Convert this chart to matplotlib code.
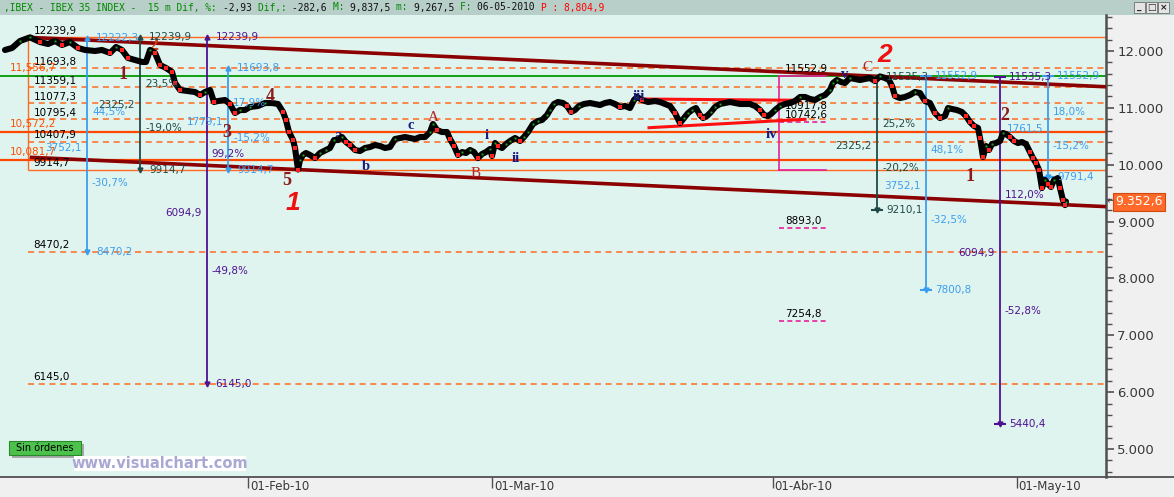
import matplotlib
matplotlib.use("Agg")
import matplotlib.pyplot as plt
import matplotlib.transforms as mtransforms
from matplotlib import font_manager
from matplotlib.font_manager import FontProperties
from matplotlib.patches import Rectangle
from matplotlib.lines import Line2D
from matplotlib.ticker import MultipleLocator
import numpy as np


def has_font(name):
    try:
        font_manager.findfont(FontProperties(family=name), fallback_to_default=False)
        return True
    except Exception:
        return False


NARROW = 'Liberation Sans Narrow' if has_font('Liberation Sans Narrow') else 'DejaVu Sans'
SERIF = 'Liberation Serif' if has_font('Liberation Serif') else 'DejaVu Serif'
SANS = 'Liberation Sans' if has_font('Liberation Sans') else 'DejaVu Sans'
MONO = 'DejaVu Sans Mono'

# ---------------- data (x = trading days from 01-Feb-10) ----------------
price_day = [-19.92, -19.34, -18.69, -17.87, -17.05, -16.39, -15.82, -15.25, -14.59, -13.93,
             -13.36, -12.54, -11.97, -11.31, -10.82, -10.33, -9.84, -9.26, -8.69, -8.36,
             -8.03, -7.62, -7.21, -6.72, -6.23, -5.98, -5.57, -4.92, -4.34, -3.93,
             -3.52, -3.11, -2.79, -2.46, -1.89, -1.48, -1.07, -0.66, -0.25, 0.16,
             0.82, 1.39, 1.97, 2.46, 2.87, 3.11, 3.36, 3.69, 3.85, 4.10,
             4.26, 4.51, 4.75, 5.08, 5.49, 5.90, 6.39, 6.72, 7.05, 7.38,
             7.70, 8.03, 8.36, 8.77, 9.18, 9.59, 10.00, 10.41, 10.82, 11.23,
             11.64, 12.05, 12.46, 12.87, 13.28, 13.69, 14.10, 14.51, 14.92, 15.16,
             15.49, 15.90, 16.31, 16.56, 16.89, 17.21, 17.54, 17.87, 18.20, 18.52,
             18.85, 19.18, 19.51, 19.84, 20.00, 20.25, 20.49, 20.82, 21.15, 21.48,
             21.89, 22.30, 22.62, 22.95, 23.36, 23.77, 24.10, 24.51, 24.75, 25.08,
             25.41, 25.82, 26.15, 26.48, 26.80, 27.13, 27.54, 28.03, 28.44, 28.85,
             29.26, 29.67, 30.08, 30.49, 30.90, 31.31, 31.64, 31.89, 32.30, 32.79,
             33.36, 33.77, 34.18, 34.59, 35.00, 35.41, 35.74, 36.07, 36.39, 36.72,
             37.05, 37.30, 37.62, 37.95, 38.28, 38.69, 39.10, 39.51, 39.92, 40.33,
             40.74, 41.15, 41.56, 41.97, 42.30, 42.62, 42.87, 43.20, 43.61, 44.02,
             44.43, 44.84, 45.25, 45.66, 46.07, 46.48, 46.89, 47.30, 47.70, 47.95,
             48.28, 48.61, 48.93, 49.34, 49.75, 50.16, 50.57, 50.98, 51.39, 51.80,
             52.21, 52.54, 52.79, 53.03, 53.44, 53.85, 54.26, 54.67, 55.08, 55.49,
             55.90, 56.31, 56.72, 57.13, 57.38, 57.70, 58.11, 58.52, 58.85, 59.18,
             59.51, 59.84, 60.00, 60.25, 60.49, 60.74, 60.98, 61.31, 61.64, 61.89,
             62.13, 62.46, 62.79, 63.11, 63.44, 63.77, 64.10, 64.34, 64.59, 64.84,
             65.08, 65.33, 65.57, 65.82, 66.07, 66.39, 66.56, 66.80, 66.97, 67.05]
price_val = [12018, 12053, 12176, 12240, 12158, 12123, 12176, 12106, 12158, 12053,
             12018, 12000, 12018, 11965, 12070, 12018, 11877, 11842, 11807, 11807,
             12018, 11965, 11754, 11701, 11631, 11437, 11314, 11296, 11279, 11226,
             11279, 11314, 11103, 11120, 11138, 11068, 10909, 10962, 10962, 11015,
             11033, 11085, 11085, 11068, 10927, 10786, 10575, 10434, 10294, 9915,
             10083, 10171, 10206, 10171, 10118, 10206, 10259, 10294, 10434, 10434,
             10487, 10399, 10347, 10259, 10241, 10294, 10311, 10347, 10329, 10294,
             10311, 10452, 10470, 10487, 10470, 10452, 10487, 10487, 10575, 10716,
             10610, 10575, 10575, 10452, 10329, 10171, 10223, 10206, 10259, 10223,
             10118, 10188, 10223, 10276, 10153, 10382, 10329, 10294, 10364, 10417,
             10470, 10417, 10487, 10575, 10716, 10769, 10786, 10874, 10962, 11068,
             11103, 11085, 11033, 10927, 10962, 11033, 11068, 11085, 11068, 11050,
             11085, 11103, 11068, 11015, 11033, 10997, 11138, 11191, 11138, 11103,
             11120, 11103, 11068, 11033, 10909, 10733, 10821, 10909, 10962, 10997,
             10874, 10821, 10857, 10927, 11015, 11068, 11085, 11103, 11085, 11068,
             11068, 11068, 11033, 10962, 10874, 10857, 10892, 10962, 11033, 11068,
             11085, 11120, 11191, 11191, 11156, 11138, 11191, 11226, 11314, 11437,
             11490, 11455, 11437, 11525, 11507, 11490, 11507, 11525, 11472, 11553,
             11525, 11490, 11384, 11208, 11173, 11191, 11226, 11279, 11261, 11120,
             11085, 10909, 10821, 10857, 10997, 10980, 10962, 10927, 10857, 10751,
             10681, 10646, 10470, 10136, 10329, 10259, 10364, 10382, 10417, 10558,
             10540, 10487, 10417, 10382, 10399, 10364, 10223, 10118, 10030, 9907,
             9590, 9731, 9661, 9608, 9731, 9766, 9590, 9379, 9290, 9352.6]
last_price = 9352.6
last_price_label = '9.352,6'

tick_days = [0, 20, 43, 63]
tick_labels = ['01-Feb-10', '01-Mar-10', '01-Abr-10', '01-May-10']
ytick_vals = [5000, 6000, 7000, 8000, 9000, 10000, 11000, 12000]
ytick_labels = ['5.000', '6.000', '7.000', '8.000', '9.000', '10.000', '11.000', '12.000']

fib_start = -18.0
fib_levels = [12239.9, 11693.8, 11359.1, 11077.3, 10795.4, 10407.9, 9914.7, 8470.2, 6145.0]
fib_labels = ['12239,9', '11693,8', '11359,1', '11077,3', '10795,4', '10407,9', '9914,7', '8470,2', '6145,0']
fib_solid = [True, False, False, False, False, False, True, False, False]

green_level = 11556.7
key_levels = [11556.7, 10572.2, 10081.7]
key_labels = ['11,556,7', '10,572,2', '10,081,7']

chan_p1 = (-18.0, 12239.9)
chan_p2 = (51.8, 11552.9)
chan_low = (4.1, 9914.7)

meas_day = [-13.2, -8.85, -3.4, -1.64, 51.56, 55.57, 61.64, 65.57]
meas_top = [12222.3, 12239.9, 12239.9, 11693.8, 11535.3, 11552.9, 11535.3, 11552.9]
meas_bot = [8470.2, 9914.7, 6145.0, 9914.7, 9210.1, 7800.8, 5440.4, 9791.4]
meas_top_lbl = ['12222,3', '12239,9', '12239,9', '11693,8', '11535,3', '11552,9', '11535,3', '11552,9']
meas_bot_lbl = ['8470,2', '9914,7', '6145,0', '9914,7', '9210,1', '7800,8', '5440,4', '9791,4']
meas_amount = ['3752,1', '2325,2', '6094,9', '1779,1', '2325,2', '3752,1', '6094,9', '1761,5']
meas_up = ['44,5%', '23,5%', '99,2%', '17,9%', '25,2%', '48,1%', '112,0%', '18,0%']
meas_dn = ['-30,7%', '-19,0%', '-49,8%', '-15,2%', '-20,2%', '-32,5%', '-52,8%', '-15,2%']
meas_kind = ['blue', 'slate', 'purple', 'blue', 'slate', 'blue', 'purple', 'blue']
# label anchor heights (layout)
meas_amount_at = [10294, 11050, 9150, 10751, 10329, 9625, 8447, 10628]
meas_up_at = [10927, 11420, 10188, 11085, 10716, 10259, 9467, 10927]
meas_dn_at = [9678, 10646, 8130, 10470, 9942, 9027, 7427, 10329]

box_left, box_right = 43.52, 47.38
box_top, box_bottom = 11552.9, 9914.7
box_mid = 10742.6
box_targets = [8893.0, 7254.8]
box_labels = ['11552,9', '10917,8', '10742,6', '8893,0', '7254,8']
box_label_vals = [11552.9, 10917.8, 10742.6, 8893.0, 7254.8]

tri_upper_day = [32.13, 45.25]
tri_upper_val = [11156, 11133]
tri_lower_day = [32.87, 45.66]
tri_lower_val = [10651, 10799]

wave_text = ['1', '2', '3', '4', '5', '1', '2']
wave_day = [-10.25, -7.7, -1.72, 1.8, 3.2, 59.18, 62.05]
wave_val = [11578, 12088, 10575, 11191, 9731, 9784, 10874]
abc_text = ['A', 'B', 'C']
abc_day = [15.16, 18.69, 50.74]
abc_val = [10839, 9854, 11701]
sub_text = ['a', 'b', 'c', 'i', 'ii', 'iii', 'iv', 'v']
sub_day = [7.4, 9.67, 13.36, 19.6, 21.97, 32.05, 42.95, 48.93]
sub_val = [10522, 9960, 10698, 10522, 10118, 11191, 10540, 11578]
big_text = ['1', '2']
big_day = [3.69, 52.2]
big_val = [9326, 11930]

title_parts = [(",IBEX - IBEX 35 INDEX -  15 m Dif, %: ", 'g'), ("-2,93 ", 'k'), ("Dif,: ", 'g'),
               ("-282,6 ", 'k'), ("M: ", 'g'), ("9,837,5 ", 'k'), ("m: ", 'g'), ("9,267,5 ", 'k'),
               ("F: ", 'g'), ("06-05-2010 ", 'k'), ("P : 8,804,9", 'r')]

# ---------------- figure ----------------
W, H, DPI = 1174, 497, 100
fig = plt.figure(figsize=(W / DPI, H / DPI), dpi=DPI, facecolor='#f0f0f0')
PLOT_R = 1106
PLOT_T = 15
PLOT_B = 477
ax = fig.add_axes([0, (H - PLOT_B) / H, PLOT_R / W, (PLOT_B - PLOT_T) / H])
ax.set_facecolor('#e0f4ef')
X_LEFT, X_RIGHT = -20.33, 70.33
ax.set_xlim(X_LEFT, X_RIGHT)
ax.set_ylim(4508, 12633)

C_ORANGE = '#ff6a20'
C_ORANGE2 = '#ff4800'
C_GREEN = '#009a00'
C_DKRED = '#8b0000'
C_PINK = '#e8209a'
COLORS = {'blue': '#3a9ef0', 'slate': '#1f4a4a', 'purple': '#4d1191'}
PX = 0.72  # points per pixel at 100 dpi


def lab(text, x, y, color, ha='left', dx=0, dy=0, va='center', size=7.5, z=6, **kw):
    ax.annotate(text, (x, y), xytext=(dx * PX, dy * PX), textcoords='offset points',
                ha=ha, va=va, color=color, fontsize=size, zorder=z,
                annotation_clip=False, **kw)


# fib rectangle + levels
for lv, lb, solid in zip(fib_levels, fib_labels, fib_solid):
    if solid:
        ax.hlines(lv, fib_start, X_RIGHT, color=C_ORANGE, lw=1.0, zorder=2)
    else:
        ax.hlines(lv, fib_start, X_RIGHT, color=C_ORANGE, lw=1.1, linestyles=(0, (4, 3)), zorder=2)
    lab(lb, fib_start, lv, 'black', dx=5, dy=1.5, va='bottom')
ax.vlines(fib_start, fib_levels[6], fib_levels[0], color=C_ORANGE, lw=1.0, zorder=2)

# key solid levels
for lv, lb in zip(key_levels, key_labels):
    if lv == green_level:
        ax.axhline(lv, color=C_GREEN, lw=1.3, zorder=2)
    else:
        ax.axhline(lv, color=C_ORANGE2, lw=1.6, zorder=2)
    ax.annotate(lb, (0, lv), xycoords=mtransforms.blended_transform_factory(ax.transAxes, ax.transData),
                xytext=(10 * PX, 3 * PX), textcoords='offset points', ha='left', va='bottom',
                color='#ff5000', fontsize=7.5, zorder=6)

# channel
slope = (chan_p2[1] - chan_p1[1]) / (chan_p2[0] - chan_p1[0])
xs = np.array([chan_p1[0], X_RIGHT])
ax.plot(xs, chan_p1[1] + slope * (xs - chan_p1[0]), color=C_DKRED, lw=2.6, zorder=3, solid_capstyle='butt')
xs2 = np.array([-17.9, X_RIGHT])
ax.plot(xs2, chan_low[1] + slope * (xs2 - chan_low[0]), color=C_DKRED, lw=2.6, zorder=3, solid_capstyle='butt')

# pink box
ax.plot([box_left, box_left], [box_bottom, box_top], color=C_PINK, lw=1.2, zorder=3)
ax.plot([box_left, box_right], [box_top, box_top], color=C_PINK, lw=1.2, zorder=3)
ax.plot([box_left, box_right], [box_bottom, box_bottom], color=C_PINK, lw=1.2, zorder=3)
for lv in [box_mid] + box_targets:
    ax.plot([box_left, box_right], [lv, lv], color=C_PINK, lw=1.2, ls=(0, (3, 2)), zorder=3)
for lb, lv in zip(box_labels, box_label_vals):
    lab(lb, box_left + 0.5, lv, 'black', dx=0, dy=2, va='bottom')

# red triangle
ax.plot(tri_upper_day, tri_upper_val, color='#ff1010', lw=2.2, zorder=4)
ax.plot(tri_lower_day, tri_lower_val, color='#ff1010', lw=2.2, zorder=4)

# measurement lines
for i in range(len(meas_day)):
    c = COLORS[meas_kind[i]]
    d = meas_day[i]
    ax.plot([d, d], [meas_bot[i], meas_top[i]], color=c, lw=1.3, zorder=4)
    right_side = d > 40
    if right_side:
        ax.plot([d], [meas_top[i]], marker='_', ms=8, mew=1.5, color=c, zorder=4)
        ax.plot([d], [meas_bot[i]], marker='_', ms=8, mew=1.5, color=c, zorder=4)
    else:
        ax.plot([d], [meas_top[i]], marker='^', ms=3.5, color=c, zorder=4)
    ax.plot([d], [meas_bot[i]], marker='v', ms=3.5, color=c, zorder=4)
    lab(meas_top_lbl[i], d, meas_top[i], c, dx=9)
    lab(meas_bot_lbl[i], d, meas_bot[i], c, dx=9)
    lab(meas_amount[i], d, meas_amount_at[i], c, ha='right', dx=-5)
    lab(meas_up[i], d, meas_up_at[i], c, dx=5)
    lab(meas_dn[i], d, meas_dn_at[i], c, dx=5)

# price
pd_ = np.array(price_day)
pv_ = np.array(price_val)
ax.plot(pd_, pv_, color='black', lw=4.4, zorder=5, solid_joinstyle='round', solid_capstyle='round')
dif = np.diff(pv_)
down = np.r_[False, dif < -40]
up = np.r_[False, dif > 40]
ax.plot(pd_[down], pv_[down], ls='none', marker='s', ms=2.2, color='#ff2020', mew=0, zorder=5.5)
ax.plot(pd_[up], pv_[up], ls='none', marker='s', ms=1.4, color='#22aa22', mew=0, zorder=5.5)

# elliott labels
for t, d, v in zip(wave_text, wave_day, wave_val):
    hidden = (t == '2' and d < 0)
    ax.text(d, v, t, color='#8b1a1a' if not hidden else '#c8401a', fontsize=13, family=SERIF,
            weight='bold', ha='center', va='center', zorder=4 if hidden else 6)
for t, d, v in zip(abc_text, abc_day, abc_val):
    ax.text(d, v, t, color='#b22222', fontsize=11, family=SERIF, ha='center', va='center', zorder=6)
for t, d, v in zip(sub_text, sub_day, sub_val):
    hidden = t in ('a', 'v')
    ax.text(d, v, t, color='#1a1a80', fontsize=10.5 if t != 'iv' else 11, family=SERIF,
            weight='bold', ha='center', va='center', zorder=4 if hidden else 6)
for t, d, v in zip(big_text, big_day, big_val):
    ax.text(d, v, t, color='#ee1111', fontsize=19, family=SANS, weight='bold', style='italic',
            ha='center', va='center', zorder=6)

# axes styling
for s in ['left', 'top', 'bottom']:
    ax.spines[s].set_visible(False)
ax.spines['right'].set_color('#505050')
ax.spines['right'].set_linewidth(1.8)
ax.yaxis.tick_right()
ax.set_yticks(ytick_vals)
ax.set_yticklabels(ytick_labels, family=NARROW)
ax.yaxis.set_minor_locator(MultipleLocator(200))
ax.tick_params(axis='y', which='major', length=6, width=1.2, color='#505050',
               labelsize=9.5, labelcolor='#383838', pad=2)
ax.tick_params(axis='y', which='minor', length=4, width=1.0, color='#505050')
ax.set_xticks(tick_days)
ax.set_xticklabels([])
ax.tick_params(axis='x', length=8, width=1.0, color='#505050', direction='out')
xtr = mtransforms.blended_transform_factory(ax.transData, ax.transAxes)
for d, t in zip(tick_days, tick_labels):
    ax.annotate(t, (d, 0), xycoords=xtr, xytext=(2 * PX, -3 * PX), textcoords='offset points',
                ha='left', va='top', fontsize=8.5, family=NARROW, color='#383838', annotation_clip=False)

# last price marker
rtr = mtransforms.blended_transform_factory(ax.transAxes, ax.transData)
ax.annotate(last_price_label, (1, last_price), xycoords=rtr, xytext=(9 * PX, 0), textcoords='offset points',
            ha='left', va='center', color='white', fontsize=9, family=NARROW, annotation_clip=False,
            bbox=dict(boxstyle='square,pad=0.2', fc='#ff6a2a', ec='#d04a10', lw=0.8), zorder=10)
ax.annotate('←', (1, last_price), xycoords=rtr, xytext=(1 * PX, 0), textcoords='offset points',
            ha='left', va='center', color='#404040', fontsize=7, annotation_clip=False)

# bottom axis line across
fig.add_artist(Line2D([0, 1], [(H - PLOT_B) / H] * 2, transform=fig.transFigure, color='#505050', lw=1.3))

# title bar
fig.add_artist(Rectangle((0, (H - PLOT_T) / H), 1, PLOT_T / H, transform=fig.transFigure,
                         fc='#b8cec8', ec='none', zorder=0))
tcol = {'g': '#008a00', 'k': '#101010', 'r': '#ff0000'}
fs_t = 6.9
cw = 0.602 * fs_t * DPI / 72.0
pos = 0
for txt, c in title_parts:
    fig.text((4 + pos * cw) / W, (H - 7.5) / H, txt, family=MONO, fontsize=fs_t, color=tcol[c],
             ha='left', va='center')
    pos += len(txt)
# window buttons
for i, sym in enumerate(['_', '□', '×']):
    x0 = 1134 + i * 12
    fig.add_artist(Rectangle((x0 / W, (H - 13) / H), 11 / W, 11 / H, transform=fig.transFigure,
                             fc='#e4e4e4', ec='#707070', lw=0.6))
    fig.text((x0 + 5.5) / W, (H - 7.5) / H, sym, fontsize=6.5, ha='center', va='center',
             color='#202020', weight='bold')

# Sin ordenes button
fig.add_artist(Rectangle((12 / W, (H - 458) / H), 72 / W, 14 / H, transform=fig.transFigure,
                         fc='#a8a8a8', ec='none'))
fig.add_artist(Rectangle((9 / W, (H - 455) / H), 72 / W, 14 / H, transform=fig.transFigure,
                         fc='#4cc24c', ec='#2a8a2a', lw=0.8))
fig.text(45 / W, (H - 448) / H, 'Sin órdenes', fontsize=7, family=NARROW, ha='center', va='center', color='black')

# watermark
fig.add_artist(Rectangle((74 / W, (H - 471) / H), 172 / W, 15 / H, transform=fig.transFigure,
                         fc='white', ec='none'))
fig.text(160 / W, (H - 463) / H, 'www.visualchart.com', fontsize=10.5, family=NARROW, weight='bold',
         ha='center', va='center', color='#a8a8d4')

fig.savefig('out.png', dpi=DPI, facecolor=fig.get_facecolor())
